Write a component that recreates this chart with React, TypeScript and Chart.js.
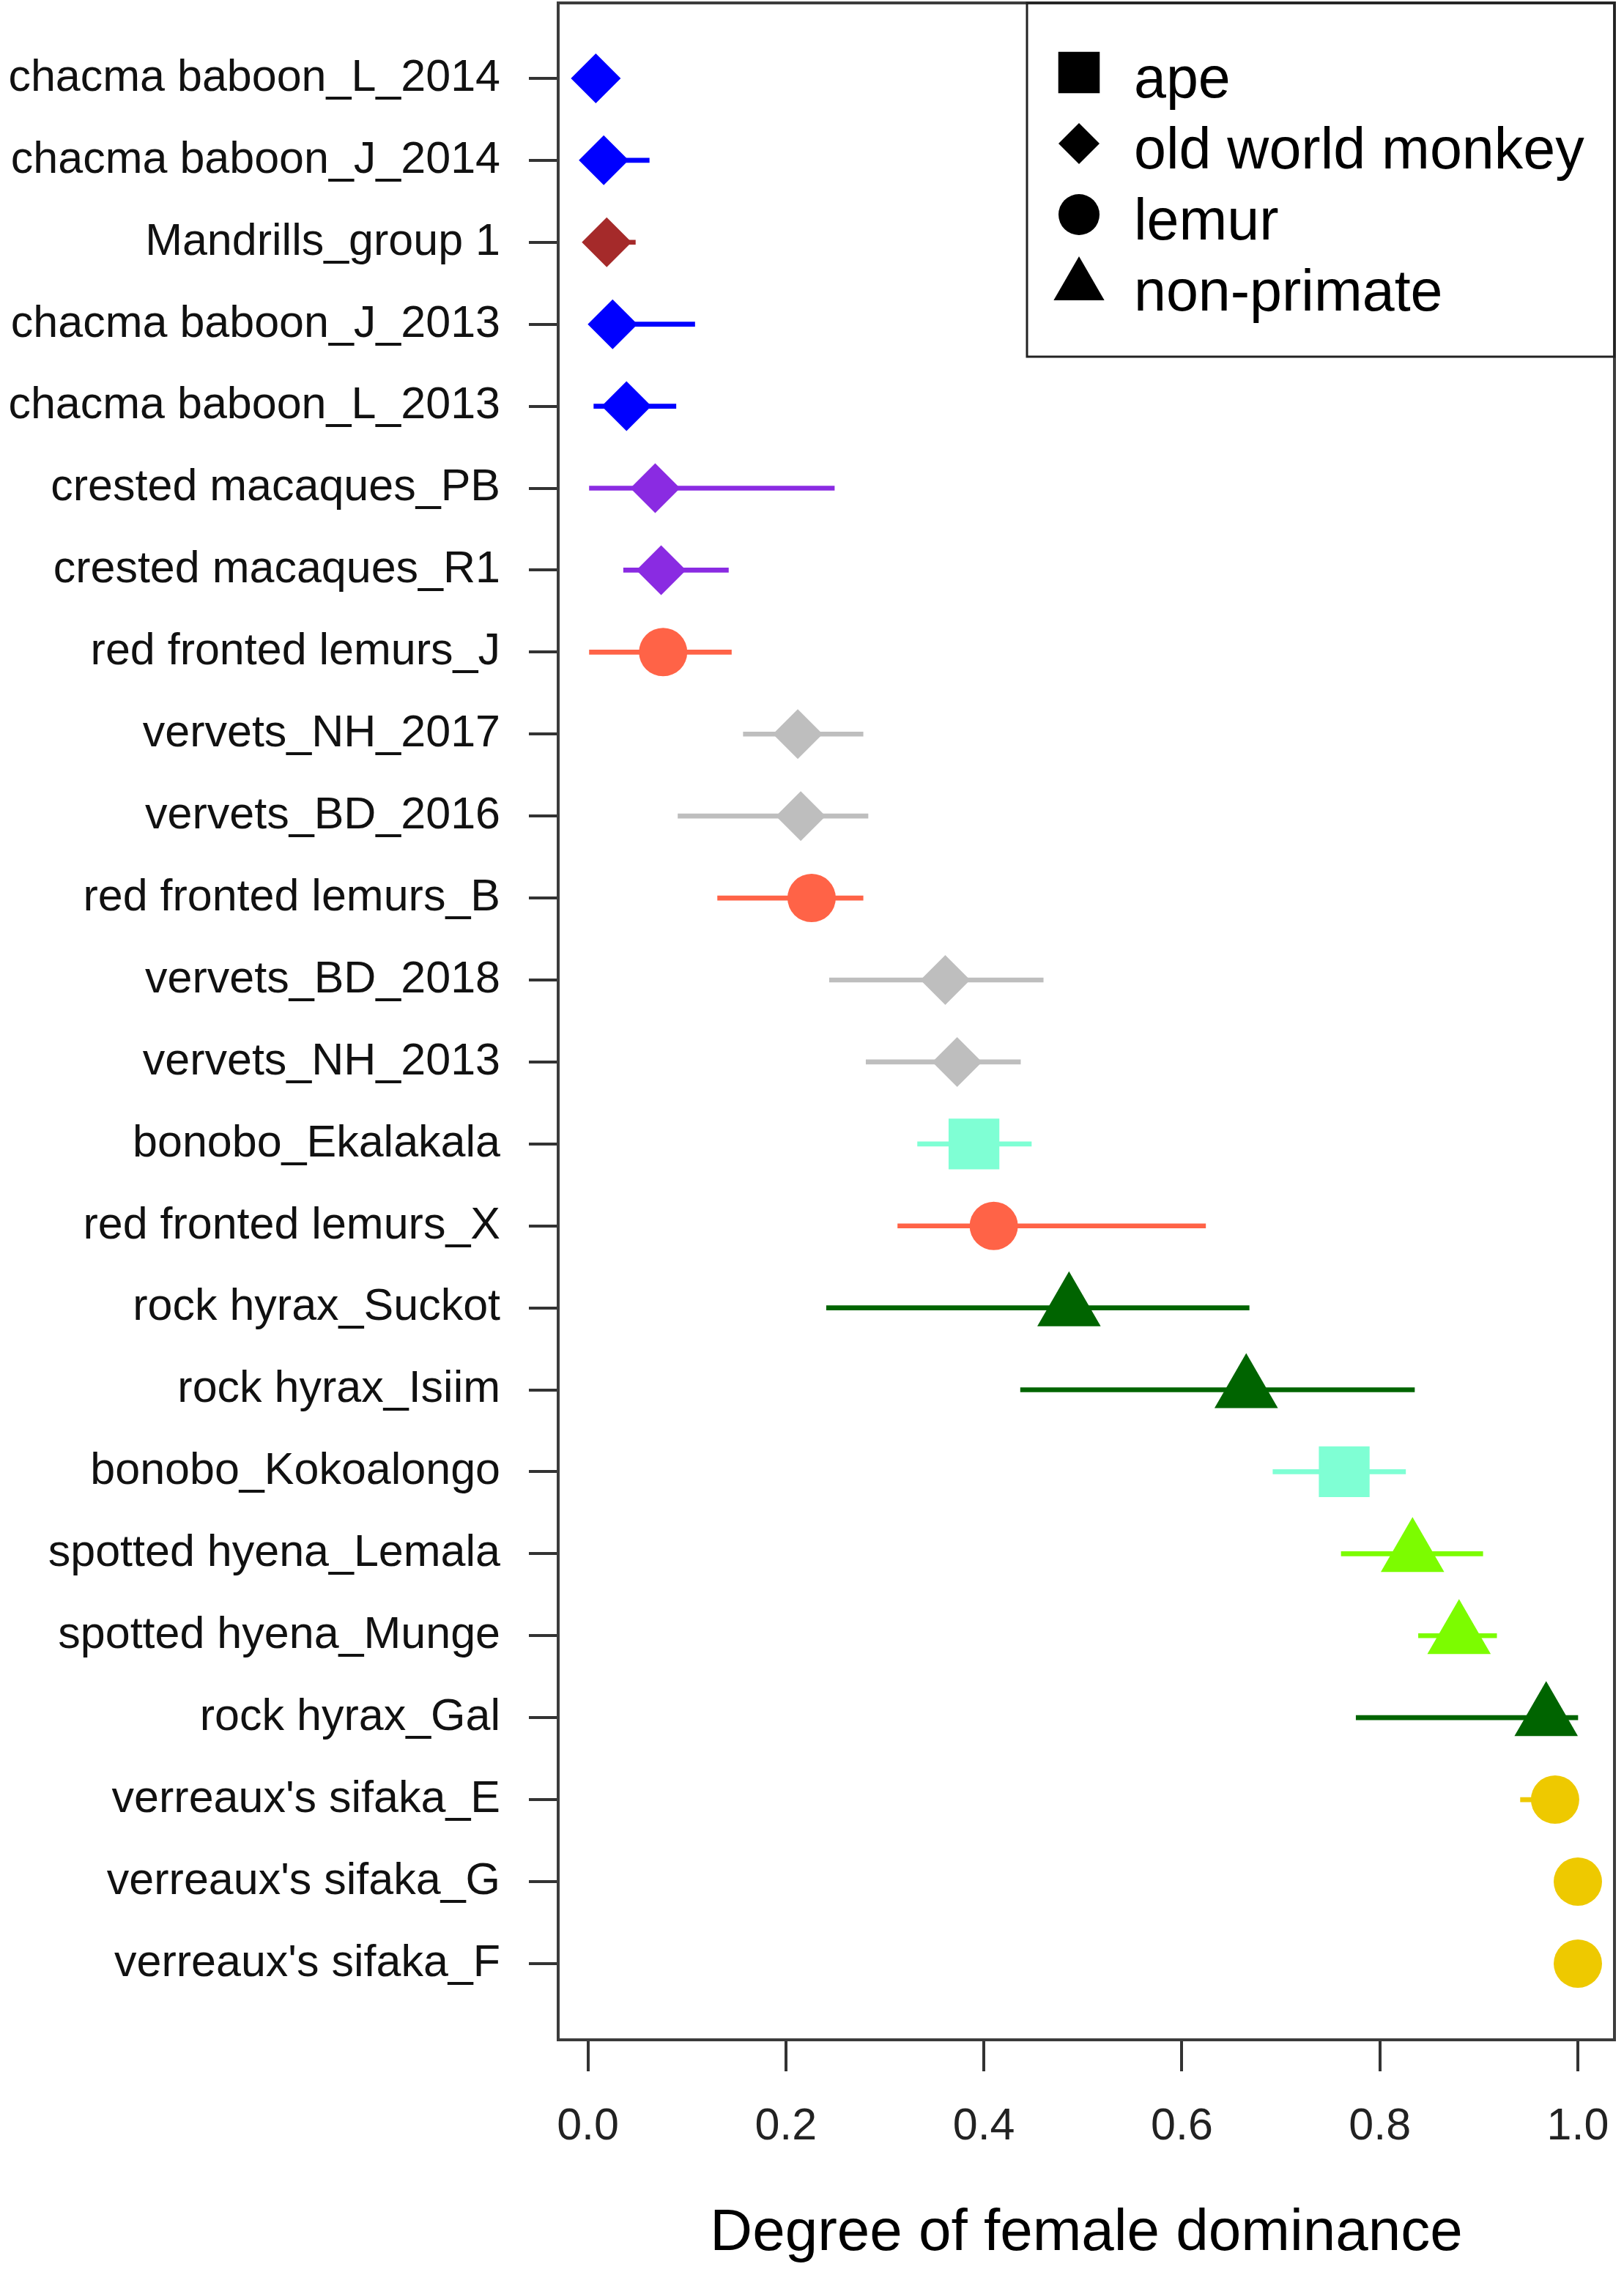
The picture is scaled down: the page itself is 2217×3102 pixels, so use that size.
import { useEffect, useRef } from 'react'
import { Chart, registerables } from 'chart.js'
import { drawPoint } from 'chart.js/helpers'

Chart.register(...registerables)

const FONT = "'Liberation Sans', Arial, sans-serif"

// one row per group, top to bottom
const groups = [
  'chacma baboon_L_2014',
  'chacma baboon_J_2014',
  'Mandrills_group 1',
  'chacma baboon_J_2013',
  'chacma baboon_L_2013',
  'crested macaques_PB',
  'crested macaques_R1',
  'red fronted lemurs_J',
  'vervets_NH_2017',
  'vervets_BD_2016',
  'red fronted lemurs_B',
  'vervets_BD_2018',
  'vervets_NH_2013',
  'bonobo_Ekalakala',
  'red fronted lemurs_X',
  'rock hyrax_Suckot',
  'rock hyrax_Isiim',
  'bonobo_Kokoalongo',
  'spotted hyena_Lemala',
  'spotted hyena_Munge',
  'rock hyrax_Gal',
  "verreaux's sifaka_E",
  "verreaux's sifaka_G",
  "verreaux's sifaka_F",
]

const estimate = [
  0.008, 0.016, 0.019, 0.025, 0.039, 0.068, 0.074, 0.076, 0.212, 0.215, 0.226, 0.361,
  0.373, 0.39, 0.41, 0.486, 0.665, 0.764, 0.833, 0.88, 0.968, 0.977, 1.0, 1.0,
]
const lower = [
  0.0, 0.0, 0.0, 0.005, 0.006, 0.0, 0.036, 0.0, 0.157, 0.091, 0.131, 0.244,
  0.281, 0.333, 0.313, 0.241, 0.437, 0.692, 0.761, 0.839, 0.776, 0.942, 1.0, 1.0,
]
const upper = [
  0.02, 0.062, 0.048, 0.108, 0.089, 0.249, 0.142, 0.145, 0.278, 0.283, 0.278, 0.46,
  0.437, 0.448, 0.624, 0.668, 0.835, 0.826, 0.904, 0.918, 1.0, 1.0, 1.0, 1.0,
]

const xTicks = [0, 0.2, 0.4, 0.6, 0.8, 1.0]

const taxa = ['ape', 'old world monkey', 'lemur', 'non-primate']

const speciesTaxon: Record<string, string> = {
  'chacma baboon': 'old world monkey',
  Mandrills: 'old world monkey',
  'crested macaques': 'old world monkey',
  vervets: 'old world monkey',
  'red fronted lemurs': 'lemur',
  "verreaux's sifaka": 'lemur',
  bonobo: 'ape',
  'rock hyrax': 'non-primate',
  'spotted hyena': 'non-primate',
}

// styles
const speciesColour: Record<string, string> = {
  'chacma baboon': '#0000FF',
  Mandrills: '#A52A2A',
  'crested macaques': '#8A2BE2',
  vervets: '#BEBEBE',
  'red fronted lemurs': '#FF6347',
  "verreaux's sifaka": '#EEC900',
  bonobo: '#7FFFD4',
  'rock hyrax': '#006400',
  'spotted hyena': '#7CFC00',
}

const taxonShape: Record<string, { style: any; radius: number; legendRadius: number }> = {
  ape: { style: 'rect', radius: 49, legendRadius: 40 },
  'old world monkey': { style: 'rectRot', radius: 34, legendRadius: 28 },
  lemur: { style: 'circle', radius: 33, legendRadius: 28 },
  'non-primate': { style: 'triangle', radius: 50, legendRadius: 40 },
}

const speciesOf = (i: number) => groups[i].split('_')[0]
const colourOf = (i: number) => speciesColour[speciesOf(i)]
const shapeOf = (i: number) => taxonShape[speciesTaxon[speciesOf(i)]]

const frameAndLegend = {
  id: 'frameAndLegend',
  afterDatasetsDraw(chart: any) {
    const { ctx, chartArea: a } = chart
    ctx.save()
    ctx.strokeStyle = '#3c3c3c'
    ctx.lineWidth = 4
    ctx.strokeRect(a.left, a.top, a.right - a.left, a.bottom - a.top)

    // legend box in the top right corner
    const boxLeft = a.right - 802
    const boxBottom = a.top + 483
    ctx.strokeStyle = '#222'
    ctx.lineWidth = 3
    ctx.strokeRect(boxLeft, a.top, a.right - boxLeft, boxBottom - a.top)
    ctx.font = `79px ${FONT}`
    ctx.textBaseline = 'middle'
    ctx.textAlign = 'left'
    taxa.forEach((t, i) => {
      const y = a.top + 95 + i * 97
      ctx.fillStyle = '#000'
      drawPoint(
        ctx,
        { pointStyle: taxonShape[t].style, radius: taxonShape[t].legendRadius, rotation: 0, borderWidth: 0 } as any,
        boxLeft + 71,
        y
      )
      ctx.fillText(t, boxLeft + 146, y + 12)
    })
    ctx.restore()
  },
}

const DominanceChart = () => {
  const canvasRef = useRef<HTMLCanvasElement>(null)

  useEffect(() => {
    document.body.style.margin = '0'
    const chart = new Chart(canvasRef.current!, {
      type: 'bar',
      data: {
        datasets: [
          {
            type: 'scatter',
            data: groups.map((_, i) => ({ x: estimate[i], y: i + 1 })),
            pointStyle: (c: any) => shapeOf(c.dataIndex).style,
            pointRadius: (c: any) => shapeOf(c.dataIndex).radius,
            pointHoverRadius: (c: any) => shapeOf(c.dataIndex).radius,
            backgroundColor: groups.map((_, i) => colourOf(i)),
            borderWidth: 0,
            order: 0,
          } as any,
          {
            type: 'bar',
            data: groups.map((_, i) => ({ x: [lower[i], upper[i]], y: i + 1 })),
            backgroundColor: groups.map((_, i) => colourOf(i)),
            barThickness: 6,
            borderWidth: 0,
            borderSkipped: false,
            order: 1,
          } as any,
        ],
      },
      options: {
        indexAxis: 'y',
        animation: false,
        responsive: true,
        maintainAspectRatio: false,
        layout: { autoPadding: false, padding: { top: 4, right: 13, left: 0, bottom: 0 } },
        plugins: {
          legend: { display: false },
          tooltip: { enabled: false },
        },
        scales: {
          x: {
            type: 'linear',
            min: -0.03,
            max: 1.037,
            offset: false,
            afterBuildTicks: (s: any) => {
              s.ticks = xTicks.map((v) => ({ value: v }))
            },
            afterFit: (s: any) => {
              s.height = 317
              s.paddingLeft = 0
              s.paddingRight = 0
            },
            border: { display: false },
            grid: {
              offset: false,
              drawOnChartArea: false,
              drawTicks: true,
              tickLength: 43,
              color: '#333',
              lineWidth: 4,
            },
            ticks: {
              autoSkip: false,
              maxRotation: 0,
              padding: 40,
              color: '#222',
              font: { family: FONT, size: 61 },
              callback: (v: any) => Number(v).toFixed(1),
            },
            title: {
              display: true,
              text: 'Degree of female dominance',
              color: '#000',
              font: { family: FONT, size: 80 },
              padding: { top: 0, bottom: 4 },
            },
          },
          y: {
            type: 'linear',
            reverse: true,
            min: 0.08,
            max: 24.93,
            offset: false,
            afterBuildTicks: (s: any) => {
              s.ticks = groups.map((_, i) => ({ value: i + 1 }))
            },
            afterFit: (s: any) => {
              s.width = 762
              s.paddingTop = 0
              s.paddingBottom = 0
            },
            border: { display: false },
            grid: {
              offset: false,
              drawOnChartArea: false,
              drawTicks: true,
              tickLength: 40,
              color: '#333',
              lineWidth: 4,
            },
            ticks: {
              autoSkip: false,
              padding: 39,
              color: '#111',
              font: { family: FONT, size: 61 },
              callback: (v: any) => groups[Number(v) - 1] ?? '',
            },
          },
        },
      },
      plugins: [frameAndLegend],
    })

    return () => chart.destroy()
  }, [])

  return (
    <div style={{ position: 'relative', width: 2217, height: 3102 }}>
      <canvas ref={canvasRef}></canvas>
    </div>
  )
}

export default function App() {
  return <DominanceChart />
}
